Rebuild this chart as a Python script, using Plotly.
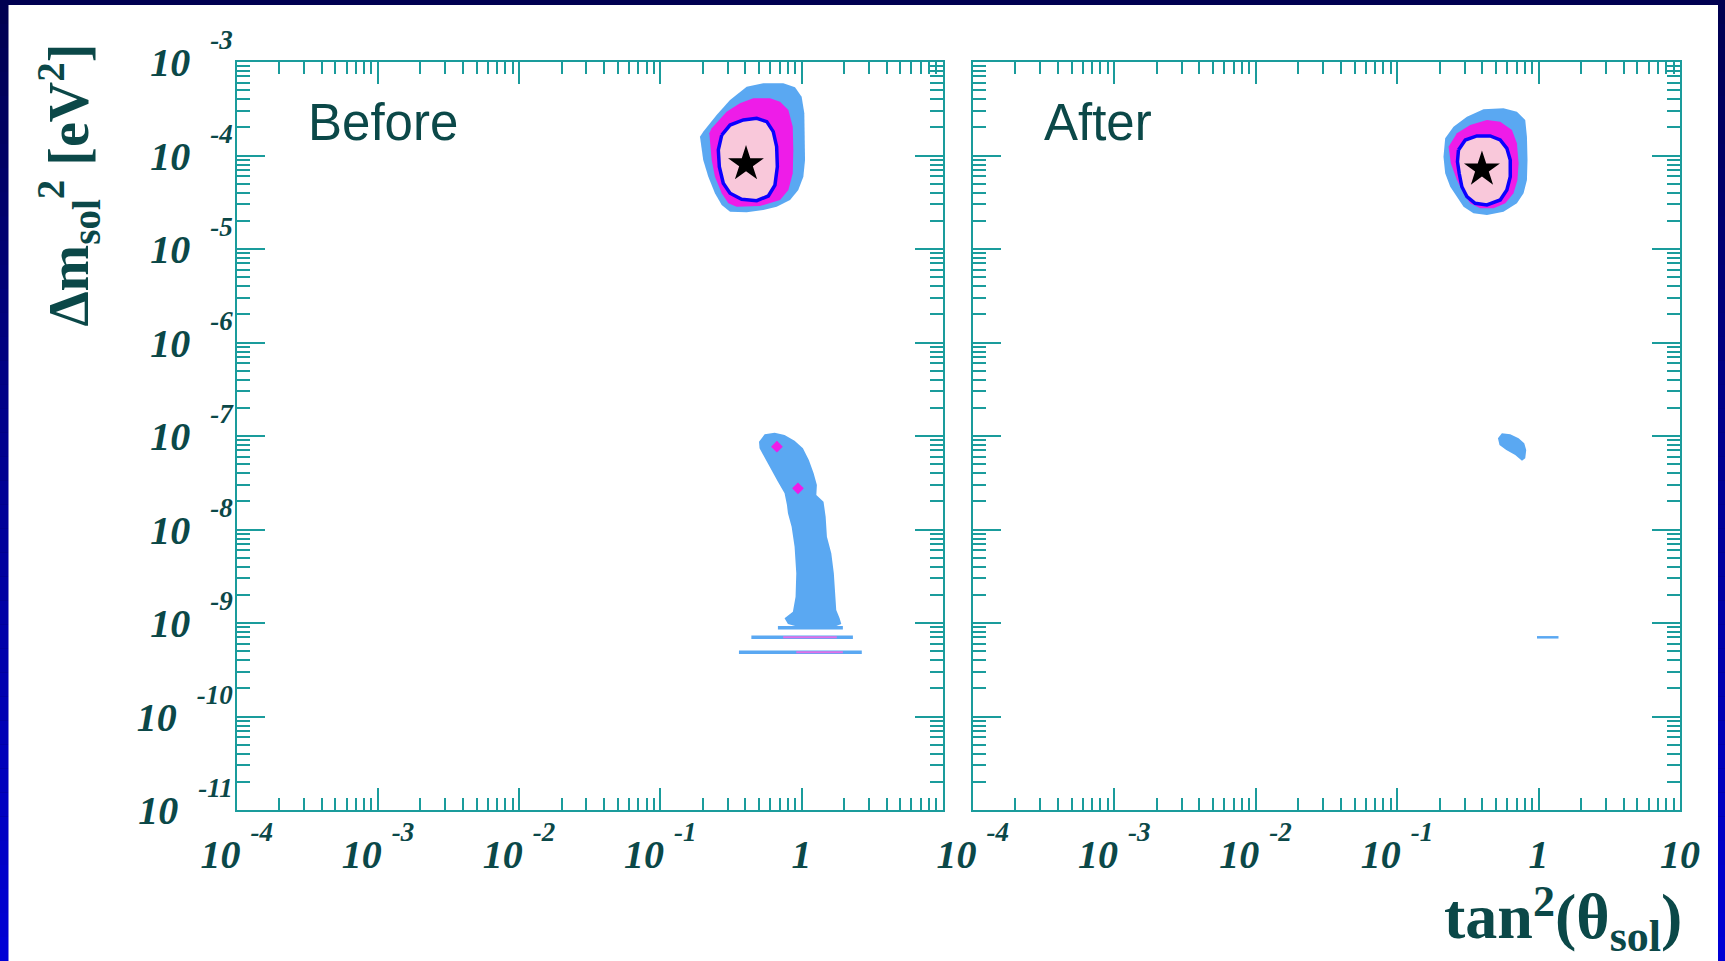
import plotly.graph_objects as go

# ---------------- data (log10 values) ----------------
# x = log10(tan^2 theta_sol), y = log10(dm^2_sol / eV^2)

# "Before" panel, LMA region
before_lma_outer_lx = [-0.271, -0.129, -0.046, 0.001, 0.020, 0.025, 0.025, 0.013, -0.023, -0.081, -0.176, -0.271,
                       -0.388, -0.506, -0.565, -0.613, -0.660, -0.696, -0.719, -0.696, -0.601, -0.506, -0.388]
before_lma_outer_ly = [-3.228, -3.228, -3.271, -3.371, -3.549, -3.799, -4.048, -4.227, -4.369, -4.476, -4.548, -4.583,
                       -4.607, -4.601, -4.529, -4.404, -4.227, -4.048, -3.799, -3.745, -3.567, -3.406, -3.264]
before_lma_mid_lx = [-0.223, -0.152, -0.093, -0.062, -0.058, -0.062, -0.093, -0.152, -0.294, -0.459, -0.518, -0.565,
                     -0.613, -0.636, -0.653, -0.636, -0.530, -0.436, -0.341]
before_lma_mid_ly = [-3.389, -3.424, -3.513, -3.692, -3.941, -4.190, -4.369, -4.476, -4.540, -4.548, -4.511, -4.404,
                     -4.227, -4.048, -3.763, -3.709, -3.531, -3.442, -3.389]
before_lma_inner_lx = [-0.565, -0.506, -0.412, -0.317, -0.246, -0.200, -0.176, -0.171, -0.188, -0.235, -0.317, -0.424,
                       -0.506, -0.554, -0.582, -0.589]
before_lma_inner_ly = [-3.781, -3.674, -3.620, -3.602, -3.638, -3.745, -3.906, -4.120, -4.316, -4.433, -4.483, -4.469,
                       -4.404, -4.297, -4.120, -3.941]
before_best_lx = [-0.393]
before_best_ly = [-4.091]

# "Before" panel, LOW region
before_low_lx = [-0.301, -0.261, -0.190, -0.120, -0.049, 0.010, 0.052, 0.086, 0.109, 0.105, 0.156, 0.171, 0.180,
                 0.211, 0.229, 0.239, 0.246, 0.270, 0.282, 0.234, -0.013, -0.096, -0.120, -0.061, -0.042, -0.037,
                 -0.049, -0.070, -0.096, -0.103, -0.120, -0.167, -0.221, -0.268, -0.297]
before_low_ly = [-7.061, -6.982, -6.964, -6.989, -7.050, -7.132, -7.257, -7.399, -7.524, -7.631, -7.703, -7.863,
                 -8.077, -8.255, -8.469, -8.682, -8.861, -8.950, -9.011, -9.040, -9.046, -9.011, -8.950, -8.879,
                 -8.719, -8.469, -8.184, -7.970, -7.827, -7.738, -7.613, -7.489, -7.346, -7.214, -7.132]
before_low_spot_lx = [-0.174, -0.025]
before_low_spot_ly = [-7.114, -7.560]
before_streak_ly = [-9.050, -9.153, -9.314]
before_streak_lx0 = [-0.167, -0.355, -0.443]
before_streak_lx1 = [0.293, 0.364, 0.427]
before_streak_mid_ly = [-9.153, -9.314]
before_streak_mid_lx0 = [-0.130, -0.037]
before_streak_mid_lx1 = [0.250, 0.293]

# "After" panel, LMA region
after_lma_outer_lx = [-0.660, -0.601, -0.506, -0.389, -0.248, -0.153, -0.094, -0.082, -0.078, -0.082, -0.106, -0.153,
                      -0.248, -0.365, -0.460, -0.530, -0.577, -0.624, -0.660, -0.672]
after_lma_outer_ly = [-3.816, -3.692, -3.585, -3.506, -3.495, -3.531, -3.620, -3.799, -4.048, -4.262, -4.404, -4.511,
                      -4.601, -4.636, -4.618, -4.548, -4.441, -4.334, -4.190, -4.013]
after_lma_mid_lx = [-0.636, -0.577, -0.483, -0.365, -0.271, -0.188, -0.153, -0.141, -0.149, -0.177, -0.235, -0.318,
                    -0.412, -0.483, -0.530, -0.577, -0.620]
after_lma_mid_ly = [-3.906, -3.763, -3.674, -3.620, -3.638, -3.727, -3.870, -4.084, -4.262, -4.404, -4.511, -4.565,
                    -4.565, -4.511, -4.404, -4.262, -4.084]
after_lma_inner_lx = [-0.566, -0.518, -0.436, -0.342, -0.271, -0.224, -0.200, -0.200, -0.224, -0.271, -0.365, -0.448,
                      -0.506, -0.542, -0.561, -0.573]
after_lma_inner_ly = [-3.941, -3.834, -3.791, -3.791, -3.834, -3.923, -4.048, -4.227, -4.369, -4.476, -4.529, -4.511,
                      -4.441, -4.334, -4.190, -4.066]
after_best_lx = [-0.400]
after_best_ly = [-4.148]

# "After" panel, LOW remnant
after_low_lx = [-0.287, -0.259, -0.200, -0.141, -0.101, -0.087, -0.094, -0.117, -0.165, -0.228, -0.276]
after_low_ly = [-7.025, -6.971, -6.982, -7.025, -7.078, -7.150, -7.239, -7.264, -7.203, -7.150, -7.096]
after_streak_ly = [-9.153]
after_streak_lx0 = [-0.011]
after_streak_lx1 = [0.141]

# axes ticks / labels
x_major_before = [1e-4, 1e-3, 1e-2, 1e-1, 1]
x_major_after = [1e-4, 1e-3, 1e-2, 1e-1, 1, 10]
x_exponents_before = ["-4", "-3", "-2", "-1", None]
x_exponents_after = ["-4", "-3", "-2", "-1", None, None]
x_plain_before = ["", "", "", "", "1"]
x_plain_after = ["", "", "", "", "1", "10"]
x_decades = [-4, -3, -2, -1, 0]
y_major = [1e-11, 1e-10, 1e-9, 1e-8, 1e-7, 1e-6, 1e-5, 1e-4, 1e-3]
y_exponents = ["-11", "-10", "-9", "-8", "-7", "-6", "-5", "-4", "-3"]
y_decades = [-11, -10, -9, -8, -7, -6, -5, -4]
panel_names = ["Before", "After"]

# ---------------- styling ----------------
W, H = 1725, 961
AX = "#1a9c9c"
TXT = "#0b4848"
C_OUT = "#5aa8f2"
C_MID = "#ee1ce8"
C_IN = "#f9c8da"
C_LINE = "#0a00ff"
EXP_STYLE = "font-size:27px;baseline-shift:27px"


def power_label(exp, gap):
    return f"10{gap}<span style='{EXP_STYLE}'>{exp}</span>"


def labels_from(exps, plains, gap):
    return [power_label(e, gap) if e is not None else p for e, p in zip(exps, plains)]


def sup(t, size, shift):
    return f"<span style='font-size:{size}px;baseline-shift:{shift}px'>{t}</span>"


def sub(t, size, shift):
    return f"<span style='font-size:{size}px;baseline-shift:-{shift}px'>{t}</span>"


x_labels_before = labels_from(x_exponents_before, x_plain_before, " ")
x_labels_after = labels_from(x_exponents_after, x_plain_after, " ")
y_labels = [power_label(e, "\u00a0\u00a0") for e in y_exponents]

y_title = "Δm" + sub("sol", 39, 12) + sup("2", 39, 24) + " [eV" + sup("2", 39, 24) + "]"
x_title = "tan" + sup("2", 44, 22) + "(θ" + sub("sol", 44, 13) + ")"

x_minor = [k * 10.0 ** e for e in x_decades for k in range(2, 10)]
y_minor = [k * 10.0 ** e for e in y_decades for k in range(2, 10)]

fig = go.Figure()


def tolin(v):
    return [10.0 ** a for a in v]


def poly(lx, ly, color, xa, ya, line_color=None, line_width=0.0):
    x = tolin(lx) + [10.0 ** lx[0]]
    y = tolin(ly) + [10.0 ** ly[0]]
    fig.add_trace(go.Scatter(x=x, y=y, mode="lines", fill="toself", fillcolor=color,
                             line=dict(color=line_color or color, width=line_width),
                             xaxis=xa, yaxis=ya, hoverinfo="skip", showlegend=False))


def streaks(ly, lx0, lx1, color, width, xa, ya):
    xs, ys = [], []
    for yv, a, b in zip(ly, lx0, lx1):
        xs += [10.0 ** a, 10.0 ** b, None]
        ys += [10.0 ** yv, 10.0 ** yv, None]
    fig.add_trace(go.Scatter(x=xs, y=ys, mode="lines", line=dict(color=color, width=width),
                             xaxis=xa, yaxis=ya, hoverinfo="skip", showlegend=False))


def star(lx, ly, xa, ya):
    fig.add_trace(go.Scatter(x=tolin(lx), y=tolin(ly), mode="markers",
                             marker=dict(symbol="star", size=27, color="black", line=dict(width=0)),
                             xaxis=xa, yaxis=ya, hoverinfo="skip", showlegend=False))


# Before panel
poly(before_lma_outer_lx, before_lma_outer_ly, C_OUT, "x", "y")
poly(before_lma_mid_lx, before_lma_mid_ly, C_MID, "x", "y")
poly(before_lma_inner_lx, before_lma_inner_ly, C_IN, "x", "y", C_LINE, 3.5)
star(before_best_lx, before_best_ly, "x", "y")
poly(before_low_lx, before_low_ly, C_OUT, "x", "y")
streaks(before_streak_ly, before_streak_lx0, before_streak_lx1, C_OUT, 3.5, "x", "y")
streaks(before_streak_mid_ly, before_streak_mid_lx0, before_streak_mid_lx1, "#e070e8", 2, "x", "y")
fig.add_trace(go.Scatter(x=tolin(before_low_spot_lx), y=tolin(before_low_spot_ly), mode="markers",
                         marker=dict(symbol="diamond", size=9, color=C_MID, line=dict(width=0)),
                         xaxis="x", yaxis="y", hoverinfo="skip", showlegend=False))

# After panel
poly(after_lma_outer_lx, after_lma_outer_ly, C_OUT, "x2", "y2")
poly(after_lma_mid_lx, after_lma_mid_ly, C_MID, "x2", "y2")
poly(after_lma_inner_lx, after_lma_inner_ly, C_IN, "x2", "y2", C_LINE, 3.5)
star(after_best_lx, after_best_ly, "x2", "y2")
poly(after_low_lx, after_low_ly, C_OUT, "x2", "y2")
streaks(after_streak_ly, after_streak_lx0, after_streak_lx1, C_OUT, 2.5, "x2", "y2")

tickfont = dict(family="Liberation Serif", size=40, color=TXT, weight="bold", style="italic")


def xaxis(domain, anchor, vals, labels):
    return dict(type="log", range=[-4, 1], domain=domain, anchor=anchor,
                showline=True, linecolor=AX, linewidth=2, mirror="ticks",
                ticks="inside", ticklen=22, tickwidth=2, tickcolor=AX,
                tickmode="array", tickvals=vals, ticktext=labels,
                tickfont=tickfont, ticklabelstandoff=8, automargin=False,
                showgrid=False, zeroline=False,
                minor=dict(ticks="inside", ticklen=12, tickwidth=2, tickcolor=AX,
                           tickmode="array", tickvals=x_minor, showgrid=False))


def yaxis(anchor, show_labels):
    return dict(type="log", range=[-11, -3], domain=[1 - 810 / H, 1 - 62 / H], anchor=anchor,
                showline=True, linecolor=AX, linewidth=2, mirror="ticks",
                ticks="inside", ticklen=28, tickwidth=2, tickcolor=AX,
                tickmode="array", tickvals=y_major,
                ticktext=y_labels if show_labels else None,
                showticklabels=show_labels, tickfont=tickfont, automargin=False,
                ticklabelstandoff=-6,
                showgrid=False, zeroline=False,
                minor=dict(ticks="inside", ticklen=13, tickwidth=2, tickcolor=AX,
                           tickmode="array", tickvals=y_minor, showgrid=False))


# background gradient frame + white page
shapes = []
n = 40
for i in range(n):
    t = (i + 0.5) / n
    b = int(80 + (215 - 80) * t)
    shapes.append(dict(type="rect", xref="paper", yref="paper", x0=0, x1=1,
                       y0=1 - (i + 1) / n, y1=1 - i / n, layer="below",
                       line=dict(width=0), fillcolor=f"rgb(0,0,{b})"))
shapes.append(dict(type="rect", xref="paper", yref="paper", x0=8.5 / W, x1=1718 / W,
                   y0=0, y1=1 - 5 / H, layer="below", line=dict(width=0), fillcolor="white"))

annotations = [
    dict(text=panel_names[0], xref="paper", yref="paper", x=306 / W, y=1 - 122 / H,
         xanchor="left", yanchor="middle", showarrow=False,
         font=dict(family="Liberation Sans", size=51, color=TXT)),
    dict(text=panel_names[1], xref="paper", yref="paper", x=1042 / W, y=1 - 122 / H,
         xanchor="left", yanchor="middle", showarrow=False,
         font=dict(family="Liberation Sans", size=51, color=TXT)),
    dict(text=y_title, xref="paper", yref="paper",
         x=68 / W, y=1 - 42 / H, xanchor="center", yanchor="top", textangle=-90, showarrow=False,
         font=dict(family="Liberation Serif", size=56, color=TXT, weight="bold")),
    dict(text=x_title, xref="paper", yref="paper",
         x=1684 / W, y=1 - 919 / H, xanchor="right", yanchor="middle", showarrow=False,
         font=dict(family="Liberation Serif", size=64, color=TXT, weight="bold")),
]

fig.update_layout(
    width=W, height=H, autosize=False,
    margin=dict(l=0, r=0, t=0, b=0, pad=0, autoexpand=False),
    paper_bgcolor="#00006a", plot_bgcolor="rgba(0,0,0,0)",
    showlegend=False,
    xaxis=xaxis([236.7 / W, 942.7 / W], "y", x_major_before, x_labels_before),
    yaxis=yaxis("x", True),
    xaxis2=xaxis([972.7 / W, 1680 / W], "y2", x_major_after, x_labels_after),
    yaxis2=yaxis("x2", False),
    shapes=shapes,
    annotations=annotations,
)

fig.write_html("out.html", config={"displayModeBar": False},
               post_script="document.body.style.margin='0';document.body.style.overflow='hidden';")
